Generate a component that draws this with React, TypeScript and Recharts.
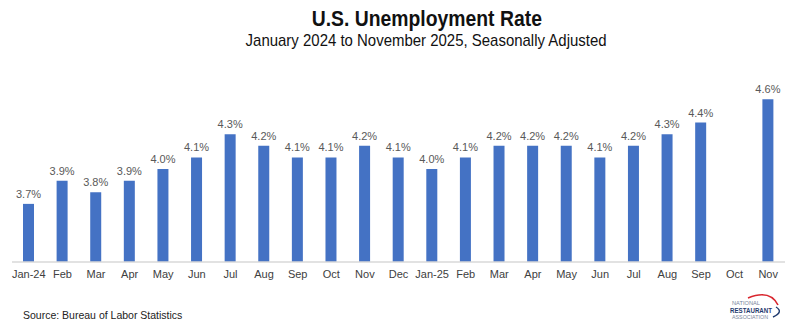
import { BarChart, Bar, XAxis, YAxis, LabelList } from "recharts";

const months = [
  "Jan-24", "Feb", "Mar", "Apr", "May", "Jun", "Jul", "Aug", "Sep", "Oct", "Nov", "Dec",
  "Jan-25", "Feb", "Mar", "Apr", "May", "Jun", "Jul", "Aug", "Sep", "Oct", "Nov",
];

// Oct 2025 not published (shutdown) -> null
const rates: (number | null)[] = [
  3.7, 3.9, 3.8, 3.9, 4.0, 4.1, 4.3, 4.2, 4.1, 4.1, 4.2, 4.1,
  4.0, 4.1, 4.2, 4.2, 4.2, 4.1, 4.2, 4.3, 4.4, null, 4.6,
];

const data = months.map((m, i) => ({ key: `${m}-${i}`, month: m, rate: rates[i] }));

const font = "'Liberation Sans', Arial, sans-serif";

function Logo() {
  return (
    <svg width={72} height={36} style={{ position: "absolute", left: 724, top: 290 }}>
      <path d="M24 8 Q46 -1 54 15" fill="none" stroke="#d9262e" strokeWidth={1.6} />
      <path d="M52 17 Q60 22 49 27" fill="none" stroke="#1f3a6e" strokeWidth={1.4} />
      <text x={8} y={15} fontSize={5.5} fill="#7a869c" fontFamily={font} textLength={28} lengthAdjust="spacingAndGlyphs">NATIONAL</text>
      <text x={6} y={22.5} fontSize={7.5} fontWeight={700} fill="#1f3a6e" fontFamily={font} textLength={42} lengthAdjust="spacingAndGlyphs">RESTAURANT</text>
      <text x={8} y={29} fontSize={5.5} fill="#7a869c" fontFamily={font} textLength={36} lengthAdjust="spacingAndGlyphs">ASSOCIATION</text>
    </svg>
  );
}

const condensed = {
  display: "inline-block",
  transform: "scaleX(0.88)",
  transformOrigin: "center",
  whiteSpace: "nowrap" as const,
};

export default function App() {
  return (
    <div
      style={{
        position: "absolute",
        left: 0,
        top: 0,
        width: 797,
        height: 333,
        background: "#fff",
        fontFamily: font,
      }}
    >
      <div
        style={{
          position: "absolute",
          left: 0,
          width: 797,
          top: 7,
          textAlign: "center",
          paddingLeft: 56,
          boxSizing: "border-box",
          color: "#111",
        }}
      >
        <div style={{ fontWeight: 700, fontSize: 22, lineHeight: "24px" }}>
          <span style={condensed}>U.S. Unemployment Rate</span>
        </div>
        <div style={{ fontSize: 17, lineHeight: "20px" }}>
          <span style={condensed}>January 2024 to November 2025, Seasonally Adjusted</span>
        </div>
      </div>

      <div style={{ position: "absolute", left: 0, top: 0 }}>
        <BarChart
          width={797}
          height={333}
          data={data}
          margin={{ top: 76, right: 12, left: 12, bottom: 51 }}
          barCategoryGap={0}
        >
          <XAxis
            dataKey="key"
            tickFormatter={(_v, i) => months[i]}
            interval={0}
            tickLine={false}
            axisLine={{ stroke: "#d9d9d9", strokeWidth: 1.5 }}
            tick={{ fontSize: 11, fill: "#404040", fontFamily: font }}
            height={20}
          />
          <YAxis hide domain={[3.2, 4.8]} allowDataOverflow />
          <Bar dataKey="rate" fill="#4472c4" barSize={11} isAnimationActive={false}>
            <LabelList
              dataKey="rate"
              position="top"
              offset={6}
              formatter={(v: number | null) => (v == null ? "" : `${v.toFixed(1)}%`)}
              style={{ fontSize: 11, fill: "#595959", fontFamily: font }}
            />
          </Bar>
        </BarChart>
      </div>

      <div
        style={{
          position: "absolute",
          left: 23,
          top: 309,
          fontSize: 10.5,
          color: "#222",
        }}
      >
        Source: Bureau of Labor Statistics
      </div>
      <Logo />
    </div>
  );
}
